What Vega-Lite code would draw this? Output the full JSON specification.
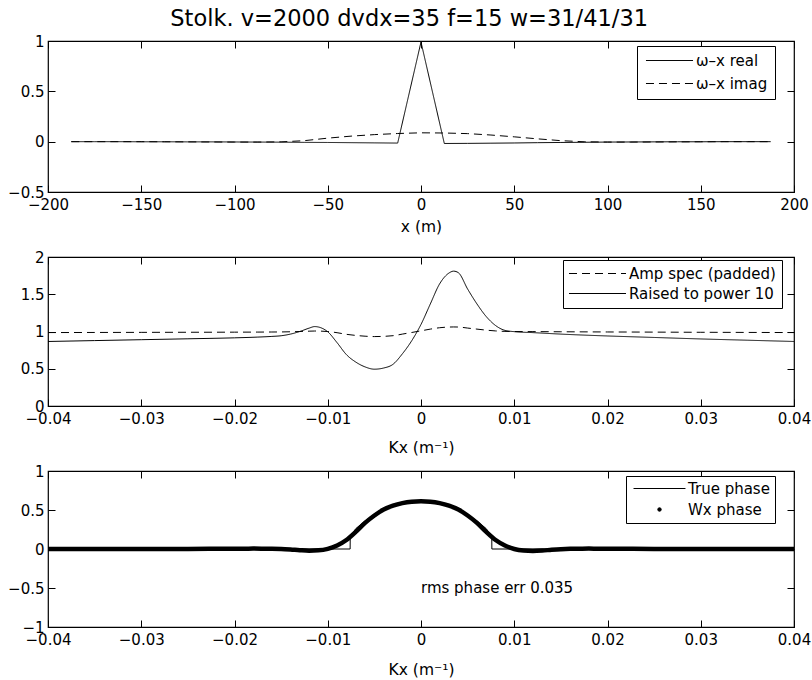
{
  "$schema": "https://vega.github.io/schema/vega-lite/v6.json",
  "background": "white",
  "padding": {"left": 6, "top": 7, "right": 0, "bottom": 0},
  "bounds": "flush",
  "spacing": 65,
  "title": {"text": "Stolk. v=2000 dvdx=35 f=15 w=31/41/31", "font": "DejaVu Sans", "fontSize": 22.5, "fontWeight": "normal", "color": "black", "anchor": "middle", "offset": 3},
  "config": {
    "font": "DejaVu Sans",
    "view": {"stroke": "black", "strokeWidth": 1.2},
    "axis": {"domain": false, "grid": false, "ticks": true, "tickSize": -7, "tickColor": "black", "tickWidth": 1, "labelFont": "DejaVu Sans", "labelFontSize": 15, "labelColor": "black", "labelFlush": false, "labelOverlap": false, "labelPadding": 11, "titleFont": "DejaVu Sans", "titleFontSize": 15.5, "titleFontWeight": "normal", "titleColor": "black"},
    "axisX": {"labelPadding": 12.5},
    "legend": {"labelFont": "DejaVu Sans", "labelFontSize": 15, "labelColor": "black", "strokeColor": "black", "fillColor": "white", "symbolStrokeWidth": 1, "symbolStrokeColor": "black", "symbolSize": 196}
  },
  "resolve": {"scale": {"x": "independent", "y": "independent", "color": "independent", "strokeDash": "independent"}, "legend": {"color": "independent", "strokeDash": "independent"}},
  "datasets": {
    "p1": [
      {"x": -187.5, "y": 0, "s": "ω–x real"}, {"x": -175, "y": 0, "s": "ω–x real"}, {"x": -162.5, "y": 0, "s": "ω–x real"}, {"x": -150, "y": -0.001, "s": "ω–x real"}, {"x": -137.5, "y": -0.001, "s": "ω–x real"}, {"x": -125, "y": -0.002, "s": "ω–x real"}, {"x": -112.5, "y": -0.002, "s": "ω–x real"}, {"x": -100, "y": -0.003, "s": "ω–x real"}, {"x": -87.5, "y": -0.004, "s": "ω–x real"}, {"x": -75, "y": -0.005, "s": "ω–x real"}, {"x": -62.5, "y": -0.007, "s": "ω–x real"}, {"x": -50, "y": -0.008, "s": "ω–x real"}, {"x": -37.5, "y": -0.01, "s": "ω–x real"}, {"x": -25, "y": -0.012, "s": "ω–x real"}, {"x": -12.5, "y": -0.014, "s": "ω–x real"}, {"x": 0, "y": 0.99, "s": "ω–x real"}, {"x": 12.5, "y": -0.018, "s": "ω–x real"}, {"x": 25, "y": -0.017, "s": "ω–x real"}, {"x": 37.5, "y": -0.015, "s": "ω–x real"}, {"x": 50, "y": -0.013, "s": "ω–x real"}, {"x": 62.5, "y": -0.01, "s": "ω–x real"}, {"x": 75, "y": -0.008, "s": "ω–x real"}, {"x": 87.5, "y": -0.006, "s": "ω–x real"}, {"x": 100, "y": -0.004, "s": "ω–x real"}, {"x": 112.5, "y": -0.003, "s": "ω–x real"}, {"x": 125, "y": -0.002, "s": "ω–x real"}, {"x": 137.5, "y": -0.001, "s": "ω–x real"}, {"x": 150, "y": -0.001, "s": "ω–x real"}, {"x": 162.5, "y": 0, "s": "ω–x real"}, {"x": 175, "y": 0, "s": "ω–x real"}, {"x": 187.5, "y": 0, "s": "ω–x real"},
      {"x": -187.5, "y": 0, "s": "ω–x imag"}, {"x": -175, "y": 0, "s": "ω–x imag"}, {"x": -162.5, "y": 0, "s": "ω–x imag"}, {"x": -150, "y": 0, "s": "ω–x imag"}, {"x": -137.5, "y": -0.001, "s": "ω–x imag"}, {"x": -125, "y": -0.002, "s": "ω–x imag"}, {"x": -112.5, "y": -0.003, "s": "ω–x imag"}, {"x": -100, "y": -0.004, "s": "ω–x imag"}, {"x": -87.5, "y": -0.004, "s": "ω–x imag"}, {"x": -75, "y": -0.002, "s": "ω–x imag"}, {"x": -62.5, "y": 0.01, "s": "ω–x imag"}, {"x": -50, "y": 0.035, "s": "ω–x imag"}, {"x": -37.5, "y": 0.055, "s": "ω–x imag"}, {"x": -25, "y": 0.07, "s": "ω–x imag"}, {"x": -12.5, "y": 0.081, "s": "ω–x imag"}, {"x": 0, "y": 0.088, "s": "ω–x imag"}, {"x": 12.5, "y": 0.086, "s": "ω–x imag"}, {"x": 25, "y": 0.08, "s": "ω–x imag"}, {"x": 37.5, "y": 0.066, "s": "ω–x imag"}, {"x": 50, "y": 0.048, "s": "ω–x imag"}, {"x": 62.5, "y": 0.028, "s": "ω–x imag"}, {"x": 75, "y": 0.01, "s": "ω–x imag"}, {"x": 87.5, "y": -0.001, "s": "ω–x imag"}, {"x": 100, "y": -0.004, "s": "ω–x imag"}, {"x": 112.5, "y": -0.004, "s": "ω–x imag"}, {"x": 125, "y": -0.003, "s": "ω–x imag"}, {"x": 137.5, "y": -0.002, "s": "ω–x imag"}, {"x": 150, "y": -0.001, "s": "ω–x imag"}, {"x": 162.5, "y": 0, "s": "ω–x imag"}, {"x": 175, "y": 0, "s": "ω–x imag"}, {"x": 187.5, "y": 0, "s": "ω–x imag"}
    ],
    "p2": [
      {"x": -0.04, "y": 0.9857, "s": "Amp spec (padded)"}, {"x": -0.035, "y": 0.9871, "s": "Amp spec (padded)"}, {"x": -0.03, "y": 0.9884, "s": "Amp spec (padded)"}, {"x": -0.025, "y": 0.9897, "s": "Amp spec (padded)"}, {"x": -0.02, "y": 0.9911, "s": "Amp spec (padded)"}, {"x": -0.0175, "y": 0.9922, "s": "Amp spec (padded)"}, {"x": -0.016, "y": 0.9932, "s": "Amp spec (padded)"}, {"x": -0.015, "y": 0.9941, "s": "Amp spec (padded)"}, {"x": -0.014, "y": 0.9964, "s": "Amp spec (padded)"}, {"x": -0.013, "y": 1.0, "s": "Amp spec (padded)"}, {"x": -0.012, "y": 1.0044, "s": "Amp spec (padded)"}, {"x": -0.0114, "y": 1.0064, "s": "Amp spec (padded)"}, {"x": -0.011, "y": 1.0058, "s": "Amp spec (padded)"}, {"x": -0.01, "y": 0.9996, "s": "Amp spec (padded)"}, {"x": -0.009, "y": 0.9839, "s": "Amp spec (padded)"}, {"x": -0.008, "y": 0.9622, "s": "Amp spec (padded)"}, {"x": -0.007, "y": 0.9475, "s": "Amp spec (padded)"}, {"x": -0.006, "y": 0.937, "s": "Amp spec (padded)"}, {"x": -0.005, "y": 0.932, "s": "Amp spec (padded)"}, {"x": -0.004, "y": 0.9349, "s": "Amp spec (padded)"}, {"x": -0.003, "y": 0.9437, "s": "Amp spec (padded)"}, {"x": -0.002, "y": 0.965, "s": "Amp spec (padded)"}, {"x": -0.001, "y": 0.9867, "s": "Amp spec (padded)"}, {"x": 0, "y": 1.0091, "s": "Amp spec (padded)"}, {"x": 0.001, "y": 1.032, "s": "Amp spec (padded)"}, {"x": 0.002, "y": 1.0507, "s": "Amp spec (padded)"}, {"x": 0.003, "y": 1.0597, "s": "Amp spec (padded)"}, {"x": 0.0035, "y": 1.0611, "s": "Amp spec (padded)"}, {"x": 0.004, "y": 1.06, "s": "Amp spec (padded)"}, {"x": 0.005, "y": 1.0461, "s": "Amp spec (padded)"}, {"x": 0.006, "y": 1.032, "s": "Amp spec (padded)"}, {"x": 0.007, "y": 1.0184, "s": "Amp spec (padded)"}, {"x": 0.008, "y": 1.0077, "s": "Amp spec (padded)"}, {"x": 0.009, "y": 1.0015, "s": "Amp spec (padded)"}, {"x": 0.01, "y": 0.9998, "s": "Amp spec (padded)"}, {"x": 0.012, "y": 0.9985, "s": "Amp spec (padded)"}, {"x": 0.015, "y": 0.9964, "s": "Amp spec (padded)"}, {"x": 0.02, "y": 0.9938, "s": "Amp spec (padded)"}, {"x": 0.025, "y": 0.9917, "s": "Amp spec (padded)"}, {"x": 0.03, "y": 0.9895, "s": "Amp spec (padded)"}, {"x": 0.035, "y": 0.9876, "s": "Amp spec (padded)"}, {"x": 0.04, "y": 0.9857, "s": "Amp spec (padded)"},
      {"x": -0.04, "y": 0.866, "s": "Raised to power 10"}, {"x": -0.035, "y": 0.878, "s": "Raised to power 10"}, {"x": -0.03, "y": 0.89, "s": "Raised to power 10"}, {"x": -0.025, "y": 0.902, "s": "Raised to power 10"}, {"x": -0.02, "y": 0.915, "s": "Raised to power 10"}, {"x": -0.0175, "y": 0.925, "s": "Raised to power 10"}, {"x": -0.016, "y": 0.934, "s": "Raised to power 10"}, {"x": -0.015, "y": 0.943, "s": "Raised to power 10"}, {"x": -0.014, "y": 0.965, "s": "Raised to power 10"}, {"x": -0.013, "y": 1.0, "s": "Raised to power 10"}, {"x": -0.012, "y": 1.045, "s": "Raised to power 10"}, {"x": -0.0114, "y": 1.066, "s": "Raised to power 10"}, {"x": -0.011, "y": 1.06, "s": "Raised to power 10"}, {"x": -0.01, "y": 0.996, "s": "Raised to power 10"}, {"x": -0.009, "y": 0.85, "s": "Raised to power 10"}, {"x": -0.008, "y": 0.69, "s": "Raised to power 10"}, {"x": -0.007, "y": 0.59, "s": "Raised to power 10"}, {"x": -0.006, "y": 0.525, "s": "Raised to power 10"}, {"x": -0.005, "y": 0.494, "s": "Raised to power 10"}, {"x": -0.004, "y": 0.51, "s": "Raised to power 10"}, {"x": -0.003, "y": 0.56, "s": "Raised to power 10"}, {"x": -0.002, "y": 0.7, "s": "Raised to power 10"}, {"x": -0.001, "y": 0.875, "s": "Raised to power 10"}, {"x": 0, "y": 1.095, "s": "Raised to power 10"}, {"x": 0.001, "y": 1.37, "s": "Raised to power 10"}, {"x": 0.002, "y": 1.64, "s": "Raised to power 10"}, {"x": 0.003, "y": 1.785, "s": "Raised to power 10"}, {"x": 0.0035, "y": 1.81, "s": "Raised to power 10"}, {"x": 0.004, "y": 1.79, "s": "Raised to power 10"}, {"x": 0.005, "y": 1.57, "s": "Raised to power 10"}, {"x": 0.006, "y": 1.37, "s": "Raised to power 10"}, {"x": 0.007, "y": 1.2, "s": "Raised to power 10"}, {"x": 0.008, "y": 1.08, "s": "Raised to power 10"}, {"x": 0.009, "y": 1.015, "s": "Raised to power 10"}, {"x": 0.01, "y": 0.998, "s": "Raised to power 10"}, {"x": 0.012, "y": 0.985, "s": "Raised to power 10"}, {"x": 0.015, "y": 0.965, "s": "Raised to power 10"}, {"x": 0.02, "y": 0.94, "s": "Raised to power 10"}, {"x": 0.025, "y": 0.92, "s": "Raised to power 10"}, {"x": 0.03, "y": 0.9, "s": "Raised to power 10"}, {"x": 0.035, "y": 0.883, "s": "Raised to power 10"}, {"x": 0.04, "y": 0.866, "s": "Raised to power 10"}
    ],
    "p3": [
      {"x": -0.04, "y": 0, "s": "True phase"}, {"x": -0.0076, "y": 0, "s": "True phase"}, {"x": -0.00759, "y": 0.15, "s": "True phase"}, {"x": -0.007, "y": 0.26, "s": "True phase"}, {"x": -0.006, "y": 0.36, "s": "True phase"}, {"x": -0.005, "y": 0.44, "s": "True phase"}, {"x": -0.004, "y": 0.505, "s": "True phase"}, {"x": -0.003, "y": 0.555, "s": "True phase"}, {"x": -0.002, "y": 0.588, "s": "True phase"}, {"x": -0.001, "y": 0.606, "s": "True phase"}, {"x": 0, "y": 0.612, "s": "True phase"}, {"x": 0.001, "y": 0.606, "s": "True phase"}, {"x": 0.002, "y": 0.588, "s": "True phase"}, {"x": 0.003, "y": 0.555, "s": "True phase"}, {"x": 0.004, "y": 0.505, "s": "True phase"}, {"x": 0.005, "y": 0.44, "s": "True phase"}, {"x": 0.006, "y": 0.36, "s": "True phase"}, {"x": 0.007, "y": 0.26, "s": "True phase"}, {"x": 0.00759, "y": 0.15, "s": "True phase"}, {"x": 0.0076, "y": 0, "s": "True phase"}, {"x": 0.04, "y": 0, "s": "True phase"},
      {"x": -0.04, "y": 0, "s": "Wx phase"}, {"x": -0.035, "y": 0, "s": "Wx phase"}, {"x": -0.03, "y": 0, "s": "Wx phase"}, {"x": -0.025, "y": 0.001, "s": "Wx phase"}, {"x": -0.02, "y": 0.003, "s": "Wx phase"}, {"x": -0.018, "y": 0.005, "s": "Wx phase"}, {"x": -0.016, "y": 0.004, "s": "Wx phase"}, {"x": -0.015, "y": 0.001, "s": "Wx phase"}, {"x": -0.014, "y": -0.006, "s": "Wx phase"}, {"x": -0.013, "y": -0.015, "s": "Wx phase"}, {"x": -0.012, "y": -0.021, "s": "Wx phase"}, {"x": -0.011, "y": -0.017, "s": "Wx phase"}, {"x": -0.01, "y": 0.002, "s": "Wx phase"}, {"x": -0.009, "y": 0.045, "s": "Wx phase"}, {"x": -0.008, "y": 0.115, "s": "Wx phase"}, {"x": -0.007, "y": 0.22, "s": "Wx phase"}, {"x": -0.006, "y": 0.335, "s": "Wx phase"}, {"x": -0.005, "y": 0.43, "s": "Wx phase"}, {"x": -0.004, "y": 0.505, "s": "Wx phase"}, {"x": -0.003, "y": 0.555, "s": "Wx phase"}, {"x": -0.002, "y": 0.588, "s": "Wx phase"}, {"x": -0.001, "y": 0.607, "s": "Wx phase"}, {"x": 0, "y": 0.613, "s": "Wx phase"}, {"x": 0.001, "y": 0.607, "s": "Wx phase"}, {"x": 0.002, "y": 0.588, "s": "Wx phase"}, {"x": 0.003, "y": 0.555, "s": "Wx phase"}, {"x": 0.004, "y": 0.505, "s": "Wx phase"}, {"x": 0.005, "y": 0.43, "s": "Wx phase"}, {"x": 0.006, "y": 0.335, "s": "Wx phase"}, {"x": 0.007, "y": 0.22, "s": "Wx phase"}, {"x": 0.008, "y": 0.115, "s": "Wx phase"}, {"x": 0.009, "y": 0.045, "s": "Wx phase"}, {"x": 0.01, "y": 0.0, "s": "Wx phase"}, {"x": 0.011, "y": -0.02, "s": "Wx phase"}, {"x": 0.012, "y": -0.025, "s": "Wx phase"}, {"x": 0.013, "y": -0.02, "s": "Wx phase"}, {"x": 0.014, "y": -0.01, "s": "Wx phase"}, {"x": 0.015, "y": -0.002, "s": "Wx phase"}, {"x": 0.016, "y": 0.003, "s": "Wx phase"}, {"x": 0.018, "y": 0.005, "s": "Wx phase"}, {"x": 0.02, "y": 0.003, "s": "Wx phase"}, {"x": 0.025, "y": 0.001, "s": "Wx phase"}, {"x": 0.03, "y": 0, "s": "Wx phase"}, {"x": 0.035, "y": 0, "s": "Wx phase"}, {"x": 0.04, "y": 0, "s": "Wx phase"}
    ]
  },
  "vconcat": [
    {
      "width": 746, "height": 151,
      "data": {"name": "p1"},
      "layer": [
        {
          "mark": {"type": "line", "strokeWidth": 1, "clip": true},
          "encoding": {
            "x": {"field": "x", "type": "quantitative", "scale": {"domain": [-200, 200], "nice": false, "zero": false}, "axis": {"orient": "bottom", "values": [-200, -150, -100, -50, 0, 50, 100, 150, 200], "format": "~r", "title": "x (m)", "titlePadding": 7}},
            "y": {"field": "y", "type": "quantitative", "scale": {"domain": [-0.5, 1], "nice": false, "zero": false}, "axis": {"orient": "left", "values": [-0.5, 0, 0.5, 1], "format": "~r", "title": null}},
            "color": {"field": "s", "type": "nominal", "scale": {"domain": ["ω–x real", "ω–x imag"], "range": ["black", "black"]}, "legend": {"title": null, "orient": "none", "legendX": 589, "legendY": 5, "padding": 7, "rowPadding": 7, "symbolType": "M-3.36,0H3.36", "symbolSize": 196, "symbolOffset": 18, "labelOffset": 19}},
            "strokeDash": {"field": "s", "type": "nominal", "scale": {"domain": ["ω–x real", "ω–x imag"], "range": [[1, 0], [8, 5]]}, "legend": {"title": null, "orient": "none", "legendX": 589, "legendY": 5, "padding": 7, "rowPadding": 7, "symbolType": "M-3.36,0H3.36", "symbolSize": 196, "symbolOffset": 18, "labelOffset": 19}}
          }
        },
        {
          "mark": {"type": "point", "opacity": 0},
          "encoding": {
            "x": {"field": "x", "type": "quantitative", "axis": {"orient": "top", "values": [-200, -150, -100, -50, 0, 50, 100, 150, 200], "labels": false, "title": null}},
            "y": {"field": "y", "type": "quantitative", "axis": {"orient": "right", "values": [-0.5, 0, 0.5, 1], "labels": false, "title": null}}
          }
        }
      ],
      "resolve": {"axis": {"x": "independent", "y": "independent"}}
    },
    {
      "width": 746, "height": 149,
      "data": {"name": "p2"},
      "layer": [
        {
          "mark": {"type": "line", "strokeWidth": 1, "interpolate": "monotone", "clip": true},
          "encoding": {
            "x": {"field": "x", "type": "quantitative", "scale": {"domain": [-0.04, 0.04], "nice": false, "zero": false}, "axis": {"orient": "bottom", "values": [-0.04, -0.03, -0.02, -0.01, 0, 0.01, 0.02, 0.03, 0.04], "format": "~r", "title": "Kx (m⁻¹)", "titlePadding": 14}},
            "y": {"field": "y", "type": "quantitative", "scale": {"domain": [0, 2], "nice": false, "zero": false}, "axis": {"orient": "left", "values": [0, 0.5, 1, 1.5, 2], "format": "~r", "title": null}},
            "color": {"field": "s", "type": "nominal", "scale": {"domain": ["Amp spec (padded)", "Raised to power 10"], "range": ["black", "black"]}, "legend": {"title": null, "orient": "none", "legendX": 515, "legendY": 3, "padding": 6, "rowPadding": 4, "symbolType": "M-4.07,0H4.07", "symbolSize": 196, "symbolOffset": 21, "labelOffset": 24}},
            "strokeDash": {"field": "s", "type": "nominal", "scale": {"domain": ["Amp spec (padded)", "Raised to power 10"], "range": [[8, 5], [1, 0]]}, "legend": {"title": null, "orient": "none", "legendX": 515, "legendY": 3, "padding": 6, "rowPadding": 4, "symbolType": "M-4.07,0H4.07", "symbolSize": 196, "symbolOffset": 21, "labelOffset": 24}}
          }
        },
        {
          "mark": {"type": "point", "opacity": 0},
          "encoding": {
            "x": {"field": "x", "type": "quantitative", "axis": {"orient": "top", "values": [-0.04, -0.03, -0.02, -0.01, 0, 0.01, 0.02, 0.03, 0.04], "labels": false, "title": null}},
            "y": {"field": "y", "type": "quantitative", "axis": {"orient": "right", "values": [0, 0.5, 1, 1.5, 2], "labels": false, "title": null}}
          }
        }
      ],
      "resolve": {"axis": {"x": "independent", "y": "independent"}}
    },
    {
      "width": 746, "height": 156,
      "data": {"name": "p3"},
      "layer": [
        {
          "transform": [{"filter": "datum.s === 'True phase'"}],
          "mark": {"type": "line", "strokeWidth": 1, "clip": true},
          "encoding": {
            "x": {"field": "x", "type": "quantitative", "scale": {"domain": [-0.04, 0.04], "nice": false, "zero": false}, "axis": {"orient": "bottom", "values": [-0.04, -0.03, -0.02, -0.01, 0, 0.01, 0.02, 0.03, 0.04], "format": "~r", "title": "Kx (m⁻¹)", "titlePadding": 15}},
            "y": {"field": "y", "type": "quantitative", "scale": {"domain": [-1, 1], "nice": false, "zero": false}, "axis": {"orient": "left", "values": [-1, -0.5, 0, 0.5, 1], "format": "~r", "title": null}},
            "color": {"field": "s", "type": "nominal", "scale": {"domain": ["True phase", "Wx phase"], "range": ["black", "black"]}, "legend": {"title": null, "orient": "none", "legendX": 578, "legendY": 5, "padding": 5, "rowPadding": 5, "symbolType": "M-3.71,0H3.71", "symbolSize": 196, "symbolOffset": 21, "labelOffset": 21, "encode": {"symbols": {"update": {"shape": {"signal": "datum.label === 'Wx phase' ? 'circle' : 'M-3.71,0H3.71'"}, "size": {"signal": "datum.label === 'Wx phase' ? 12 : 196"}, "fill": {"signal": "datum.label === 'Wx phase' ? 'black' : 'transparent'"}}}}}}
          }
        },
        {
          "transform": [{"filter": "datum.s === 'Wx phase'"}],
          "mark": {"type": "line", "strokeWidth": 4.5, "interpolate": "monotone", "clip": true},
          "encoding": {
            "x": {"field": "x", "type": "quantitative", "axis": null},
            "y": {"field": "y", "type": "quantitative", "axis": null},
            "color": {"field": "s", "type": "nominal", "scale": {"domain": ["True phase", "Wx phase"], "range": ["black", "black"]}, "legend": {"title": null, "orient": "none", "legendX": 578, "legendY": 5, "padding": 5, "rowPadding": 5, "symbolType": "M-3.71,0H3.71", "symbolSize": 196, "symbolOffset": 21, "labelOffset": 21, "encode": {"symbols": {"update": {"shape": {"signal": "datum.label === 'Wx phase' ? 'circle' : 'M-3.71,0H3.71'"}, "size": {"signal": "datum.label === 'Wx phase' ? 12 : 196"}, "fill": {"signal": "datum.label === 'Wx phase' ? 'black' : 'transparent'"}}}}}}
          }
        },
        {
          "data": {"values": [{"x": 0, "y": -0.5, "t": "rms phase err 0.035"}]},
          "mark": {"type": "text", "align": "left", "baseline": "middle", "font": "DejaVu Sans", "fontSize": 15, "color": "black"},
          "encoding": {
            "x": {"field": "x", "type": "quantitative", "axis": null},
            "y": {"field": "y", "type": "quantitative", "axis": null},
            "text": {"field": "t"}
          }
        },
        {
          "mark": {"type": "point", "opacity": 0},
          "encoding": {
            "x": {"field": "x", "type": "quantitative", "axis": {"orient": "top", "values": [-0.04, -0.03, -0.02, -0.01, 0, 0.01, 0.02, 0.03, 0.04], "labels": false, "title": null}},
            "y": {"field": "y", "type": "quantitative", "axis": {"orient": "right", "values": [-1, -0.5, 0, 0.5, 1], "labels": false, "title": null}}
          }
        }
      ],
      "resolve": {"axis": {"x": "independent", "y": "independent"}}
    }
  ]
}
